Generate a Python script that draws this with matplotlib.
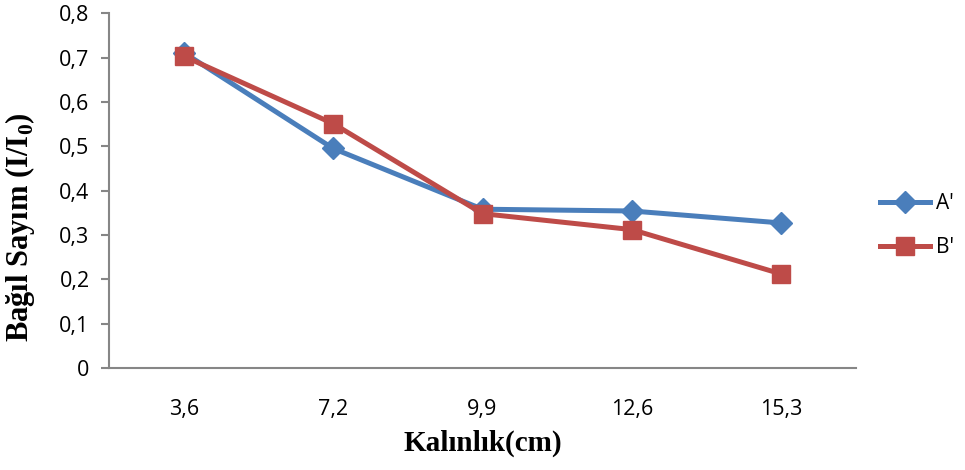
import numpy as np
import matplotlib
matplotlib.use("Agg")
from matplotlib import pyplot as plt

# data
thickness = ["3,6", "7,2", "9,9", "12,6", "15,3"]
a_prime = [0.711, 0.495, 0.358, 0.354, 0.327]
b_prime = [0.703, 0.551, 0.348, 0.312, 0.212]
y_ticks = [0, 0.1, 0.2, 0.3, 0.4, 0.5, 0.6, 0.7, 0.8]
y_tick_labels = ["0", "0,1", "0,2", "0,3", "0,4", "0,5", "0,6", "0,7", "0,8"]

plt.rcParams["mathtext.fontset"] = "custom"
plt.rcParams["mathtext.bf"] = "Liberation Serif:bold"
plt.rcParams["mathtext.rm"] = "Liberation Serif:bold"

blue = "#4A7EBB"
red = "#BE4B48"
grey = "#868686"

fig = plt.figure(figsize=(9.65, 4.7), dpi=100)
ax = fig.add_axes([0.113, 0.217, 0.774, 0.755])

x = np.arange(len(thickness))
ax.plot(x, a_prime, color=blue, lw=3.6, marker="D", ms=11.5, label="A'", zorder=3)
ax.plot(x, b_prime, color=red, lw=3.6, marker="s", ms=13.5, label="B'", zorder=4)

ax.set_xlim(-0.5, len(thickness) - 0.5)
ax.set_ylim(0, 0.8)
ax.set_xticks(x)
ax.set_xticklabels(thickness)
ax.set_yticks(y_ticks)
ax.set_yticklabels(y_tick_labels)

for s in ["top", "right"]:
    ax.spines[s].set_visible(False)
for s in ["left", "bottom"]:
    ax.spines[s].set_color(grey)
    ax.spines[s].set_linewidth(1.5)

ax.tick_params(axis="y", length=6, width=1.5, color=grey, pad=8, labelsize=15.5)
ax.tick_params(axis="x", length=0, pad=22, labelsize=15.5)
for lbl in ax.get_xticklabels() + ax.get_yticklabels():
    lbl.set_fontfamily("Open Sans")

ax.set_xlabel("Kalınlık(cm)", family="Liberation Serif", weight="bold", fontsize=21, labelpad=7)
ax.set_ylabel(r"Bağıl Sayım (I/I$_\mathbf{0}$)", family="Liberation Serif", weight="bold",
              fontsize=22)
ax.yaxis.set_label_coords(-0.097, 0.397)

leg = ax.legend(loc="center left", bbox_to_anchor=(0.892, 0.52), bbox_transform=fig.transFigure,
                frameon=False, prop={"family": "Open Sans", "size": 15},
                handlelength=2.4, labelspacing=1.1, handletextpad=0.3)

fig.savefig("out.png", dpi=100)
